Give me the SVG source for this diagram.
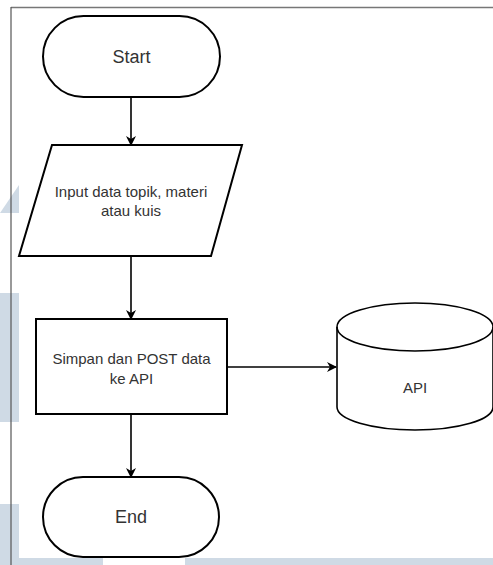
<svg xmlns="http://www.w3.org/2000/svg" width="493" height="565" viewBox="0 0 493 565">
<style>
.shape{fill:#fff;stroke:#000;stroke-width:2}
.conn{fill:none;stroke:#000;stroke-width:1.6}
.t{font-family:"Liberation Sans",Arial,sans-serif;font-size:15px;fill:#333;text-anchor:middle}
.tb{font-family:"Liberation Sans",Arial,sans-serif;font-size:18px;fill:#333;text-anchor:middle}
.wm{fill:#cfdae5}
</style>
<defs>
<marker id="ah" markerWidth="10" markerHeight="10" refX="9" refY="5" orient="auto" markerUnits="userSpaceOnUse">
<path d="M0,0 L10,5 L0,10 L3,5 Z" fill="#000"/>
</marker>
</defs>
<rect width="493" height="565" fill="#fff"/>
<g id="watermark">
<polygon class="wm" points="0,213 19,185 19,213"/>
<rect class="wm" x="0" y="293" width="19" height="129"/>
<rect class="wm" x="0" y="504" width="19" height="61"/>
<rect class="wm" x="19" y="558" width="84" height="7"/>
<rect class="wm" x="185" y="558" width="308" height="7"/>
</g>
<g id="frame">
<line x1="11" y1="7.5" x2="493" y2="7.5" stroke="#777" stroke-width="1.5"/>
<line x1="11" y1="7" x2="11" y2="565" stroke="#555" stroke-width="1.2"/>
</g>
<g id="connectors">
<line class="conn" x1="131" y1="97" x2="131" y2="145" marker-end="url(#ah)"/>
<line class="conn" x1="131" y1="256" x2="131" y2="319" marker-end="url(#ah)"/>
<line class="conn" x1="227" y1="367" x2="336" y2="367" marker-end="url(#ah)"/>
<line class="conn" x1="131" y1="414" x2="131" y2="477" marker-end="url(#ah)"/>
</g>
<g id="start">
<rect class="shape" x="43" y="16" width="177" height="81" rx="40.5" ry="40.5"/>
<text class="tb" x="131.5" y="63">Start</text>
</g>
<g id="input">
<polygon class="shape" points="52,145 242,145 211,256 19,256"/>
<text class="t" x="131" y="197">Input data topik, materi</text>
<text class="t" x="131" y="216">atau kuis</text>
</g>
<g id="simpan">
<rect class="shape" x="36" y="319" width="191" height="95"/>
<text class="t" x="131.5" y="364">Simpan dan POST data</text>
<text class="t" x="131.5" y="384">ke API</text>
</g>
<g id="api">
<path class="shape" d="M337,327 A78,24 0 0 1 493,327 L493,407 A78,23 0 0 1 337,407 Z" style="stroke-width:1.6"/>
<path fill="none" stroke="#000" stroke-width="1.6" d="M337,327 A78,24 0 0 0 493,327"/>
<text class="t" x="415" y="393">API</text>
</g>
<g id="end">
<rect class="shape" x="43" y="477" width="176" height="80" rx="40" ry="40"/>
<text class="tb" x="131" y="523">End</text>
</g>
</svg>
